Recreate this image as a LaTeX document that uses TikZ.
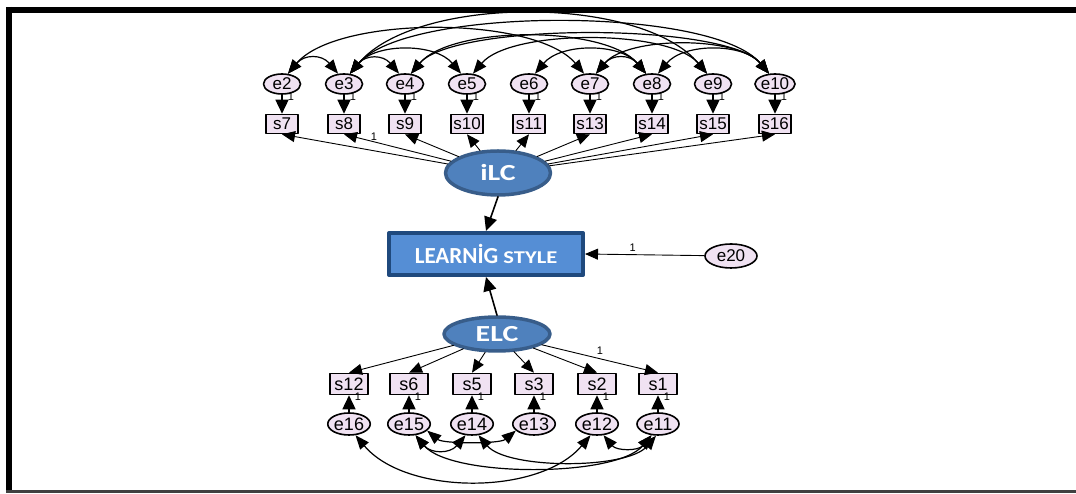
\documentclass[tikz,border=0pt]{standalone}
\usepackage{fontspec}
\usepackage{graphicx}
\setmainfont{Liberation Sans}
\newfontfamily\calfont{Carlito}
\usetikzlibrary{shapes.geometric,arrows.meta}

\definecolor{errfill}{RGB}{240,226,242}
\definecolor{latfill}{RGB}{79,129,189}
\definecolor{latdraw}{RGB}{56,93,138}
\definecolor{dvfill}{RGB}{85,142,213}
\definecolor{dvdraw}{RGB}{31,73,125}

\begin{document}
\begin{tikzpicture}[
  x=1pt,
  y=1pt,
  line cap=round,
  line join=round,
  errnode/.style={ellipse, draw, line width=1.6pt, fill=errfill,
    inner sep=0pt, minimum width=37pt, minimum height=20pt,
    font=\fontsize{17}{17}\selectfont},
  errbig/.style={errnode, minimum width=42pt, minimum height=22pt,
    font=\fontsize{18}{18}\selectfont},
  obsbox/.style={rectangle, draw, line width=1.6pt, fill=errfill,
    inner sep=0pt, minimum width=32pt, minimum height=19pt,
    font=\fontsize{17}{17}\selectfont},
  obsbig/.style={obsbox, minimum width=38pt, minimum height=21pt,
    font=\fontsize{18}{18}\selectfont},
  latent/.style={ellipse, draw=latdraw, line width=3.5pt, fill=latfill,
    inner sep=0pt, text=white, font=\calfont\bfseries\fontsize{23}{23}\selectfont},
  dvbox/.style={rectangle, draw=dvdraw, line width=4pt, fill=dvfill,
    inner sep=0pt, minimum width=194pt, minimum height=42pt, text=white},
  reg/.style={line width=1.6pt, arrows={-Triangle[length=14pt,width=13pt]}},
  load/.style={line width=0.9pt, arrows={-Triangle[length=13pt,width=11pt]}},
  cov/.style={line width=1.2pt,
    arrows={Triangle[length=14pt,width=11pt]-Triangle[length=14pt,width=11pt]}},
  one/.style={font=\fontsize{11}{11}\selectfont, inner sep=1pt}
]
  \useasboundingbox (0,0) rectangle (1076,494);

  % Рамка
  \draw[line width=6pt, line cap=butt] (6,484) -- (1076,484);
  \draw[line width=5.5pt, line cap=butt] (9,487) -- (9,2);
  \draw[line width=2.5pt, line cap=butt, black!75] (6,2.5) -- (1076,2.5);

  % Латентные переменные и зависимая
  \node[latent, minimum width=105pt, minimum height=44pt] (iLC) at (498,321)
    {\scalebox{1.3}[1]{iLC}};
  \node[dvbox] (LS) at (486,240)
    {\calfont\bfseries\fontsize{23}{23}\selectfont LEARNİG
     \scalebox{1.25}[1]{\fontsize{18}{18}\selectfont STYLE}\hspace{12pt}};
  \node[latent, minimum width=106pt, minimum height=34pt] (ELC) at (497,160)
    {\scalebox{1.3}[1]{ELC}};
  \node[errnode, minimum width=52pt, minimum height=24pt] (e20) at (731,238) {e20};

  % Верхний блок индикаторов
  \foreach \e/\s/\x in {2/7/282, 3/8/344, 4/9/405, 5/10/467, 6/11/529,
                        7/13/590, 8/14/652, 9/15/713, 10/16/775} {
    \node[errnode] (e\e) at (\x,410) {e\e};
    \node[obsbox] (s\s) at (\x,370) {s\s};
    \draw[reg] (e\e) -- node[one, pos=0.1, right=4pt] {1} (s\s);
  }
  \foreach \s in {7,9,10,11,13,14,15,16}
    \draw[load] (iLC) -- (s\s.south);
  \draw[load] (iLC) -- node[one, pos=0.72, above] {1} (s8.south);

  % Нижний блок индикаторов
  \foreach \e/\s/\x in {16/12/349, 15/6/409, 14/5/472, 13/3/534, 12/2/597, 11/1/658} {
    \node[errbig] (e\e) at (\x,70) {e\e};
    \node[obsbig] (s\s) at (\x,110) {s\s};
    \draw[reg] (e\e) -- node[one, pos=0.9, right=4pt] {1} (s\s);
    \draw[load] (ELC) -- (s\s.north);
  }
  \path (ELC) -- node[one, pos=0.5, above=3pt] {1} (s1.north);

  % Структурные связи
  \draw[reg] (iLC.south) -- (LS.north);
  \draw[reg] (ELC.north) -- (LS.south);
  \draw[load] (e20) -- node[one, pos=0.6, above=2pt] {1} (LS.east);

  % Ковариации ошибок сверху
  \draw[cov] (e2.60) to[bend left=50, looseness=1.3] (e3.120);
  \draw[cov] (e2.60) to[bend left=50, looseness=0.66] (e7.120);
  \draw[cov] (e3.60) to[bend left=50, looseness=1.3] (e4.120);
  \draw[cov] (e3.60) to[bend left=50, looseness=0.93] (e5.120);
  \draw[cov] (e3.60) to[bend left=50, looseness=0.74] (e9.120);
  \draw[cov] (e3.60) to[bend left=50, looseness=0.54] (e10.120);
  \draw[cov] (e4.60) to[bend left=50, looseness=0.69] (e8.120);
  \draw[cov] (e4.60) to[bend left=50, looseness=0.48] (e10.120);
  \draw[cov] (e5.60) to[bend left=50, looseness=0.64] (e9.120);
  \draw[cov] (e6.60) to[bend left=50, looseness=0.93] (e8.120);
  \draw[cov] (e7.60) to[bend left=50, looseness=1.3] (e8.120);
  \draw[cov] (e7.60) to[bend left=50, looseness=0.73] (e10.120);
  \draw[cov] (e8.60) to[bend left=50, looseness=0.93] (e10.120);

  % Ковариации ошибок снизу
  \draw[cov] (e16.-60) to[bend right=50, looseness=0.86] (e12.-120);
  \draw[cov] (e15.-60) to[bend right=50, looseness=0.6] (e11.-120);
  \draw[cov] (e15.-60) to[bend right=50, looseness=1.24] (e14.-120);
  \draw[cov] (e15.-20) to[bend right=40, looseness=0.6] (e13.-160);
  \draw[cov] (e14.-60) to[bend right=50, looseness=0.64] (e11.-100);
  \draw[cov] (e12.-60) to[bend right=50, looseness=1.1] (e11.-120);
\end{tikzpicture}
\end{document}
